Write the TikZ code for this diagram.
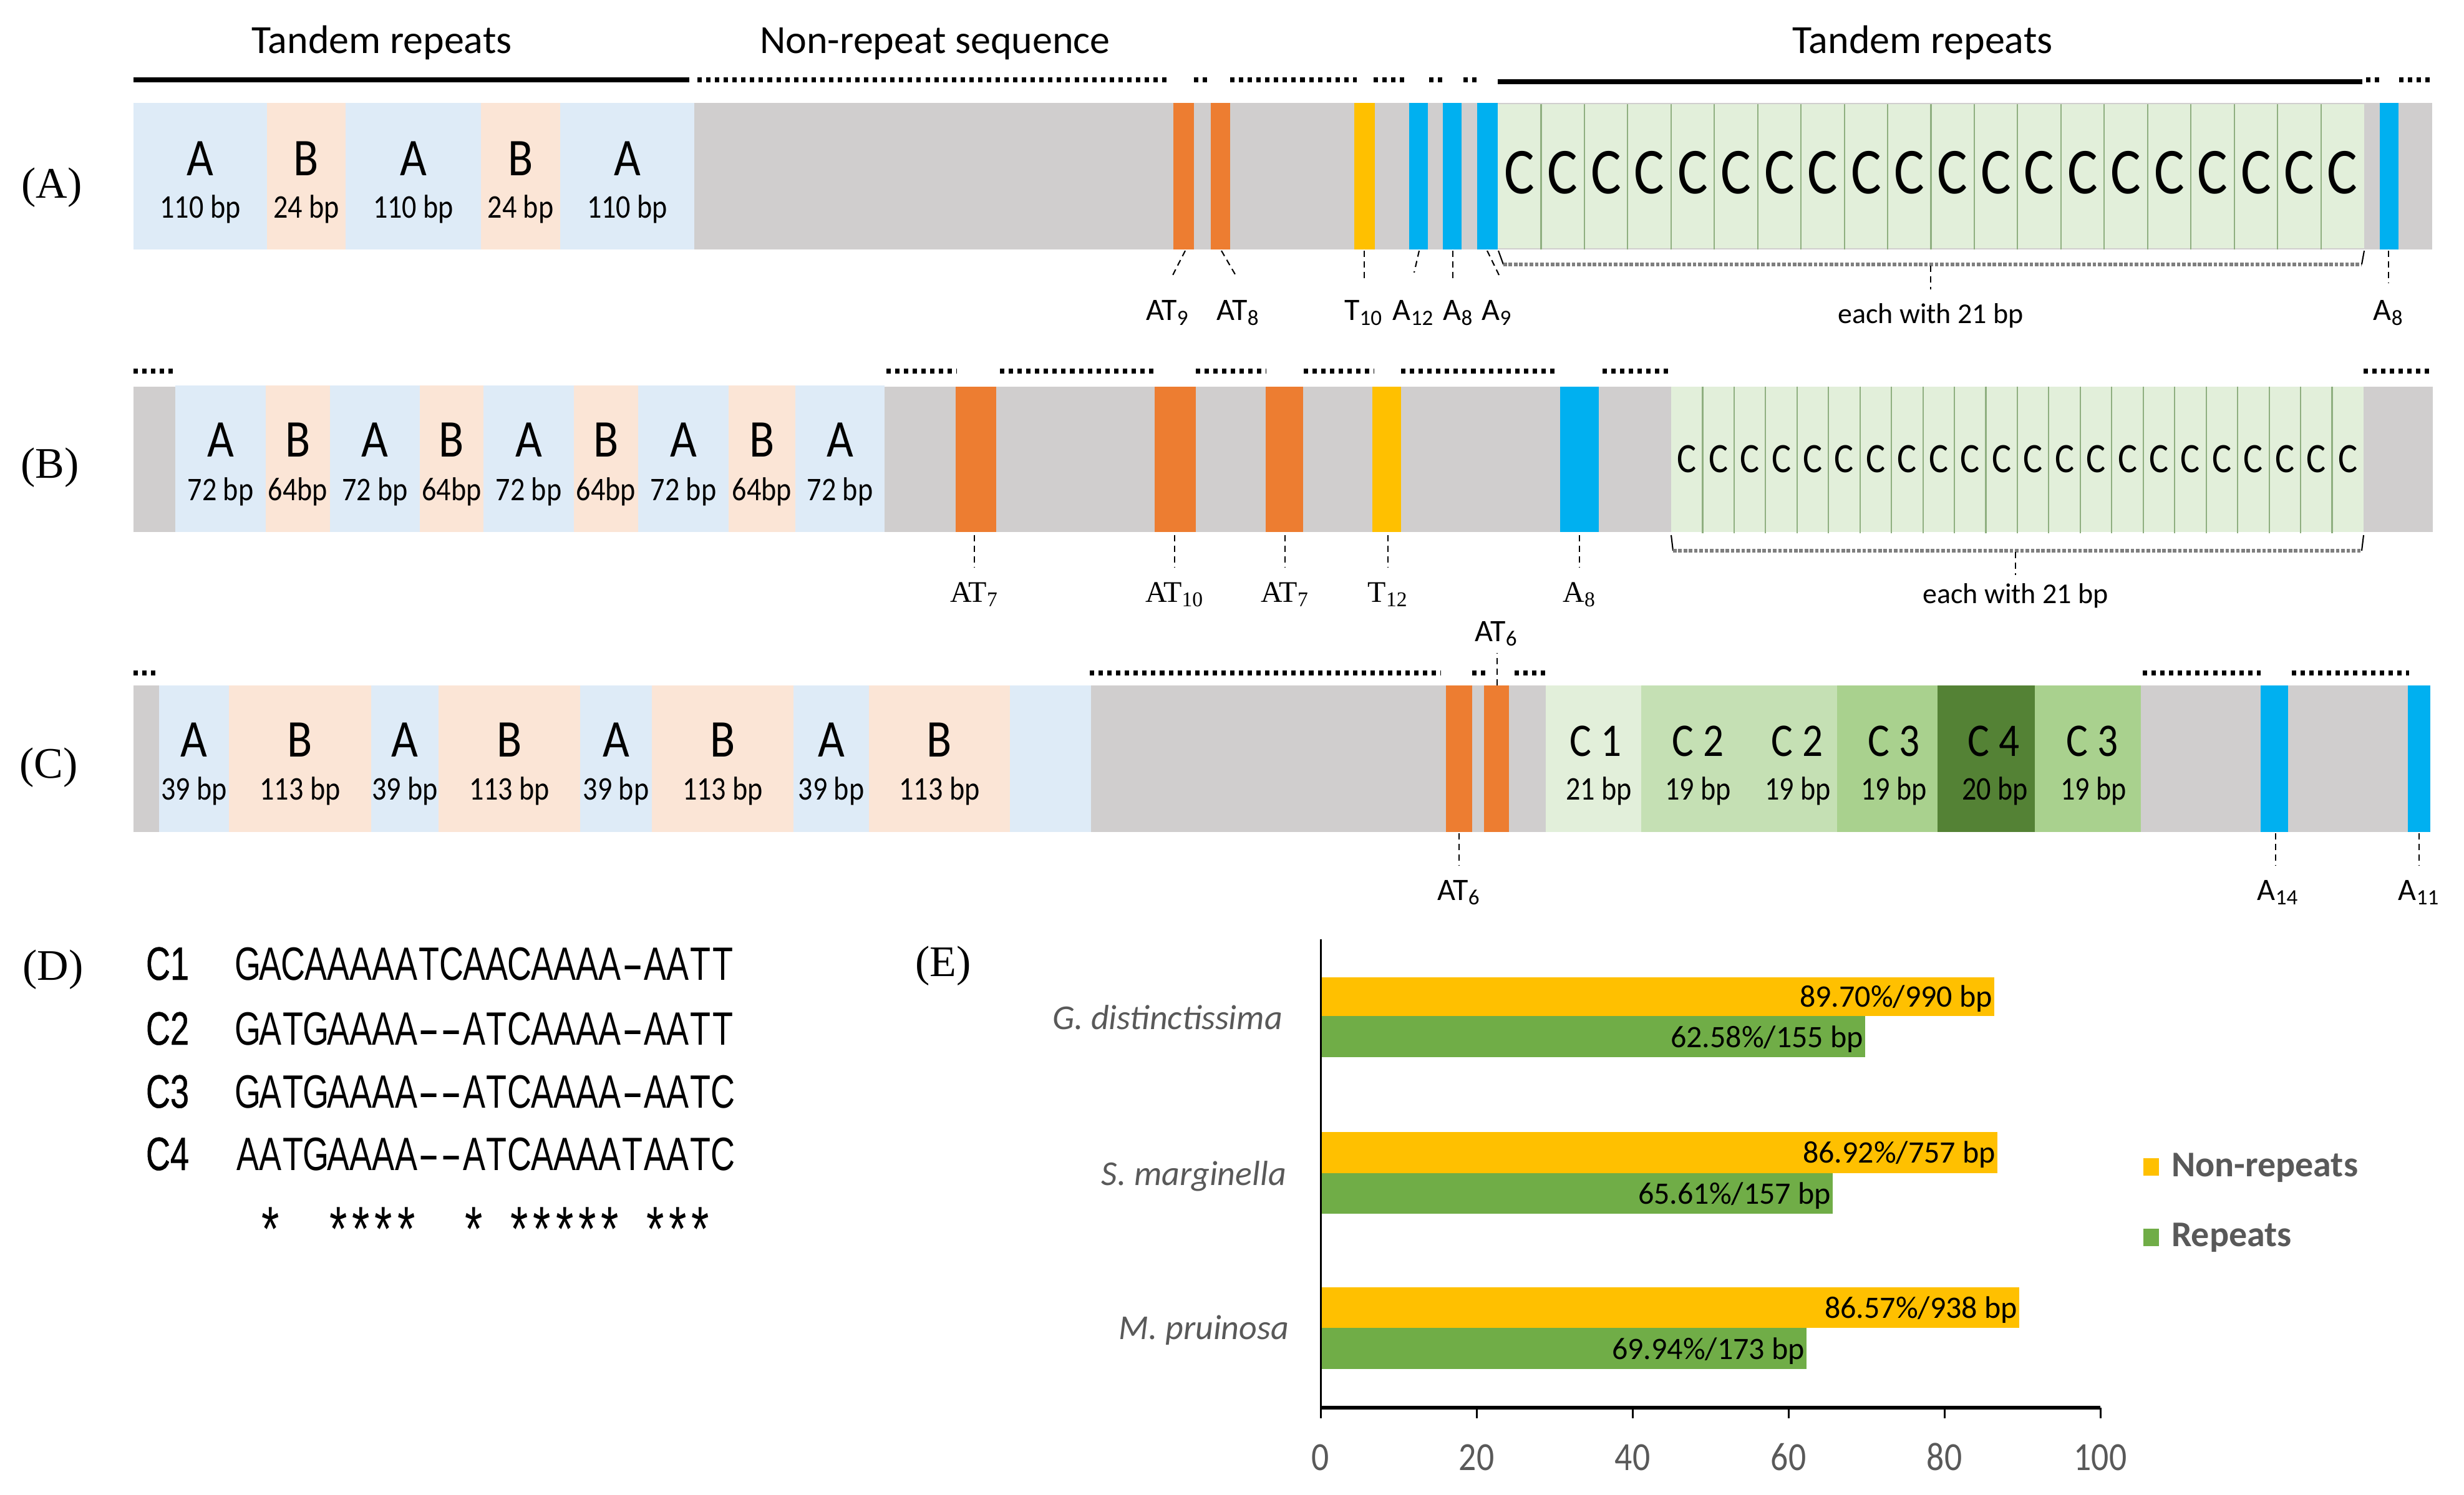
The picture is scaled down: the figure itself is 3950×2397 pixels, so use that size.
\documentclass[tikz,border=0pt]{standalone}
\usepackage{fontspec}
\usepackage{graphicx}
\setmainfont{Carlito}
\newfontfamily\calN[FakeStretch=0.87]{Carlito}
\newfontfamily\tms{Liberation Serif}
\newfontfamily\arl[FakeStretch=0.72]{Liberation Sans}
\newfontfamily\arlB[FakeStretch=0.72,FakeBold=0.6]{Liberation Sans}
\newcommand\fpx[1]{\fontsize{\fpeval{#1*0.28453}pt}{\fpeval{#1*0.34}pt}\selectfont}
\definecolor{lblue}{HTML}{DEEBF7}
\definecolor{peach}{HTML}{FBE5D6}
\definecolor{gbar}{HTML}{D0CECE}
\definecolor{ssrO}{HTML}{ED7D31}
\definecolor{ssrY}{HTML}{FFC000}
\definecolor{ssrB}{HTML}{00B0F0}
\definecolor{lgreen}{HTML}{E2EFDA}
\definecolor{cgB}{HTML}{C5E0B4}
\definecolor{cgC}{HTML}{A9D18E}
\definecolor{cgD}{HTML}{548235}
\definecolor{cline}{HTML}{8FAF80}
\definecolor{brgray}{HTML}{7F7F7F}
\definecolor{gtext}{HTML}{595959}
\definecolor{barG}{HTML}{70AD47}
\newlength\seqw
\setlength\seqw{3.63mm}
\def\seqrun#1{\ifx#1\relax\else\seqchar{#1}\expandafter\seqrun\fi}
\newcommand\seqchar[1]{\ifx x#1\hspace*{\seqw}\else\makebox[\seqw][c]{\ifx-#1\scalebox{1.9}[1]{-}\else\ifx*#1\raisebox{-0.12em}{\scalebox{1.35}{*}}\else#1\fi\fi}\fi}
\begin{document}
\begin{tikzpicture}[x=0.1mm,y=-0.1mm,
  every node/.style={inner sep=0pt,outer sep=0pt},
  tl/.style={font=\calN\fpx{85},anchor=base},
  bpl/.style={font=\calN\fpx{53},anchor=base},
  dotl/.style={line width=2pt,dash pattern=on 2pt off 2pt},
  solidl/.style={line width=2.3pt},
  leader/.style={line width=0.6pt,dash pattern=on 2.8pt off 2pt},
  brk/.style={line width=1.6pt,brgray,dash pattern=on 1.6pt off 0.8pt},
  brv/.style={line width=0.6pt},
  sl/.style={font=\fpx{50},anchor=base},
  tmsl/.style={font=\tms\fpx{48},anchor=base},
  panel/.style={font=\tms\fpx{70},anchor=base},
  hdr/.style={font=\fpx{64},anchor=base},
  eachl/.style={font=\fpx{46},anchor=base},
  cl/.style={cline,line width=0.6pt},
  barl/.style={font=\fpx{50},anchor=base east},
  spl/.style={font=\itshape\fpx{56},text=gtext,anchor=base east},
  tickl/.style={font=\calN\fpx{64},text=gtext,anchor=base},
  legl/.style={font=\bfseries\fpx{58},text=gtext,anchor=base west},
  seq/.style={font=\arl\fpx{75},anchor=base west},
  seqlab/.style={font=\arlB\fpx{75},anchor=base west}
]
\useasboundingbox (0,0) rectangle (3950,2397);

% ---------------- Row A ----------------
\node[panel] (pA) at (83,318) {(A)};
\node[hdr] (hA1) at (612,86) {Tandem repeats};
\node[hdr] (hA2) at (1499,86) {Non-repeat sequence};
\node[hdr] (hA3) at (3082,86) {Tandem repeats};
\draw[solidl] (214,128) -- (1105,128);
\foreach \xa/\xb in {1118/1876,1914/1940,1972/2175,2202/2258,2291/2313,2346/2371,3793/3815,3846/3899}
  \draw[dotl] (\xa,128) -- (\xb,128);
\draw[solidl] (2401,131) -- (3787,131);

\fill[gbar] (214,165) rectangle (3899,400);
\foreach \xa/\xb/\cc/\lt/\bp [count=\i] in {214/428/lblue/A/110 bp,428/554/peach/B/24 bp,554/771/lblue/A/110 bp,771/898/peach/B/24 bp,898/1113/lblue/A/110 bp}{
  \fill[\cc] (\xa,165) rectangle (\xb,400);
  \node[tl] (Al\i) at ({(\xa+\xb)/2},282) {\lt};
  \node[bpl] (Ab\i) at ({(\xa+\xb)/2},350) {\bp};
}
\foreach \xa/\xb/\cc in {1881/1914/ssrO,1941/1972/ssrO,2171/2204/ssrY,2259/2289/ssrB,2313/2343/ssrB,2368/2401/ssrB,3815/3845/ssrB}
  \fill[\cc] (\xa,165) rectangle (\xb,400);
\fill[lgreen] (2401,167) rectangle (3790,398);
\foreach \i in {1,...,19} \draw[cl] ({2401+\i*69.45},167) -- ({2401+\i*69.45},400);
\foreach \i in {0,...,19} \node[font=\calN\fpx{105},anchor=base] (AC\i) at ({2401+(\i+0.5)*69.45},311) {C};

\foreach \xa/\ya/\xb/\yb/\xl/\tx [count=\i] in {1900/402/1878/445/1872/AT\textsubscript{9},1958/402/1983/445/1985/AT\textsubscript{8},2187/402/2187/448/2186/T\textsubscript{10},2275/402/2267/437/2266/A\textsubscript{12},2329/402/2329/448/2338/A\textsubscript{8},2384/402/2403/441/2400/A\textsubscript{9},3829/402/3829/454/3829/A\textsubscript{8}}{
  \coordinate (LAa\i) at (\xa,\ya);
  \coordinate (LAb\i) at (\xb,\yb);
  \draw[leader] (LAa\i) -- (LAb\i);
  \node[sl] (LA\i) at (\xl,514) {\tx};
}
\coordinate (bA1) at (2402,402); \coordinate (bA2) at (2410,424);
\coordinate (bA3) at (3786,424); \coordinate (bA4) at (3790,402);
\coordinate (bA5) at (3095,426); \coordinate (bA6) at (3095,464);
\draw[brv] (bA1) -- (bA2);
\draw[brk] (bA2) -- (bA3);
\draw[brv] (bA3) -- (bA4);
\draw[leader] (bA5) -- (bA6);
\node[eachl] (eA) at (3095,519) {each with 21 bp};

% ---------------- Row B ----------------
\node[panel] (pB) at (80,767) {(B)};
\foreach \xa/\xb in {214/284,1421/1534,1603/1852,1917/2030,2090/2203,2246/2496,2569/2679,3789/3900}
  \draw[dotl] (\xa,595) -- (\xb,595);
\fill[gbar] (214,620) rectangle (3900,853);
\foreach \xa/\xb/\cc/\lt/\bp [count=\i] in {281/426/lblue/A/72 bp,426/529/peach/B/64bp,529/673/lblue/A/72 bp,673/775/peach/B/64bp,775/920/lblue/A/72 bp,920/1023/peach/B/64bp,1023/1168/lblue/A/72 bp,1168/1275/peach/B/64bp,1275/1418/lblue/A/72 bp}{
  \fill[\cc] (\xa,618) rectangle (\xb,853);
  \node[tl] (Bl\i) at ({(\xa+\xb)/2},732) {\lt};
  \node[bpl] (Bb\i) at ({(\xa+\xb)/2},802) {\bp};
}
\foreach \xa/\xb/\cc in {1532/1597/ssrO,1851/1917/ssrO,2029/2089/ssrO,2200/2246/ssrY,2501/2563/ssrB}
  \fill[\cc] (\xa,620) rectangle (\xb,853);
\fill[lgreen] (2679,620) rectangle (3789,853);
\foreach \i in {1,...,21} \draw[cl] ({2679+\i*50.45},620) -- ({2679+\i*50.45},855);
\foreach \i in {0,...,21} \node[font=\calN\fpx{67},anchor=base] (BC\i) at ({2679+(\i+0.5)*50.45},757) {C};

\foreach \xa/\tx [count=\i] in {1562/AT\textsubscript{7},1883/AT\textsubscript{10},2060/AT\textsubscript{7},2225/T\textsubscript{12},2532/A\textsubscript{8}}{
  \coordinate (LBa\i) at (\xa,858);
  \coordinate (LBb\i) at (\xa,910);
  \draw[leader] (LBa\i) -- (LBb\i);
  \node[tmsl] (LB\i) at (\xa,965) {\tx};
}
\coordinate (bB1) at (2679,858); \coordinate (bB2) at (2682,883);
\coordinate (bB3) at (3786,883); \coordinate (bB4) at (3789,858);
\coordinate (bB5) at (3231,885); \coordinate (bB6) at (3231,922);
\draw[brv] (bB1) -- (bB2);
\draw[brk] (bB2) -- (bB3);
\draw[brv] (bB3) -- (bB4);
\draw[leader] (bB5) -- (bB6);
\node[eachl] (eB) at (3231,967) {each with 21 bp};

% ---------------- Row C ----------------
\node[panel] (pC) at (78,1247) {(C)};
\foreach \xa/\xb in {214/255,1747/2310,2360/2382,2428/2480,3435/3624,3674/3862}
  \draw[dotl] (\xa,1079) -- (\xb,1079);
\fill[gbar] (214,1099) rectangle (3896,1334);
\foreach \xa/\xb/\cc/\lt/\bp [count=\i] in {255/367/lblue/A/39 bp,367/595/peach/B/113 bp,595/703/lblue/A/39 bp,703/930/peach/B/113 bp,930/1045/lblue/A/39 bp,1045/1272/peach/B/113 bp,1272/1393/lblue/A/39 bp,1393/1619/peach/B/113 bp}{
  \fill[\cc] (\xa,1099) rectangle (\xb,1334);
  \node[tl] (Cl\i) at ({(\xa+\xb)/2},1213) {\lt};
  \node[bpl] (Cb\i) at ({(\xa+\xb)/2},1282) {\bp};
}
\fill[lblue] (1619,1099) rectangle (1749,1334);
\foreach \xa/\xb/\cc in {2318/2360/ssrO,2379/2419/ssrO,3624/3668/ssrB,3860/3896/ssrB}
  \fill[\cc] (\xa,1099) rectangle (\xb,1334);
\foreach \xa/\xb/\cc/\xt/\xp/\lt/\bp [count=\i] in {2478/2631/lgreen/2558/2563/C 1/21 bp,2631/2788/cgB/2722/2722/C 2/19 bp,2788/2945/cgB/2881/2882/C 2/19 bp,2945/3106/cgC/3036/3036/C 3/19 bp,3106/3262/cgD/3196/3198/C 4/20 bp,3262/3432/cgC/3354/3356/C 3/19 bp}{
  \fill[\cc] (\xa,1099) rectangle (\xb,1334);
  \node[font=\calN\fpx{75},anchor=base] (Cc\i) at (\xt,1212) {\lt};
  \node[bpl] (Cp\i) at (\xp,1282) {\bp};
}
\foreach \xa/\xl/\tx [count=\i] in {2339/2339/AT\textsubscript{6},3648/3652/A\textsubscript{14},3878/3878/A\textsubscript{11}}{
  \coordinate (LCa\i) at (\xa,1336);
  \coordinate (LCb\i) at (\xa,1387);
  \draw[leader] (LCa\i) -- (LCb\i);
  \node[sl] (LC\i) at (\xl,1443) {\tx};
}
\coordinate (LCt1) at (2400,1099); \coordinate (LCt2) at (2400,1047);
\draw[leader] (LCt1) -- (LCt2);
\node[sl] (LCtop) at (2399,1028) {AT\textsubscript{6}};

% ---------------- Panel D ----------------
\node[panel] (pD) at (85,1571) {(D)};
\foreach \lab/\s/\yb [count=\i] in {C1/GACAAAAATCAACAAAA-AATT/1571,C2/GATGAAAA--ATCAAAA-AATT/1675,C3/GATGAAAA--ATCAAAA-AATC/1776,C4/AATGAAAA--ATCAAAATAATC/1876}{
  \node[seqlab] (Dl\i) at (234,\yb) {\lab};
  \node[seq] (Ds\i) at (379,\yb) {\expandafter\seqrun\s\relax};
}
\node[seq] (Dstar) at (379,1996) {\seqrun x*xx****xx*x*****x***\relax};

% ---------------- Panel E ----------------
\node[panel] (pE) at (1512,1565) {(E)};
\coordinate (O) at (2117,2257);
\coordinate (Ytop) at (2117,1506);
\coordinate (Xend) at (3367,2257);
\fill[ssrY] (2117,1567) rectangle (3197,1629);
\fill[barG] (2117,1629) rectangle (2990,1695);
\fill[ssrY] (2117,1815) rectangle (3202,1881);
\fill[barG] (2117,1881) rectangle (2938,1946);
\fill[ssrY] (2117,2064) rectangle (3237,2129);
\fill[barG] (2117,2129) rectangle (2896,2195);
\draw[line width=0.85pt] (Ytop) -- (O);
\draw[line width=1.7pt] (O) -- (Xend);
\foreach \v in {0,20,40,60,80,100}{
  \coordinate (tk\v) at ({2117+\v*12.5},2257);
  \coordinate (tb\v) at ({2117+\v*12.5},2274);
  \draw[line width=0.85pt] (tk\v) -- (tb\v);
  \node[tickl] (tl\v) at ({2117+\v*12.5},2357) {\v};
}
\node[barl] (eb1) at (3194,1614) {89.70\%/990 bp};
\node[barl] (eb2) at (2987,1679) {62.58\%/155 bp};
\node[barl] (eb3) at (3199,1864) {86.92\%/757 bp};
\node[barl] (eb4) at (2935,1930) {65.61\%/157 bp};
\node[barl] (eb5) at (3234,2113) {86.57\%/938 bp};
\node[barl] (eb6) at (2893,2179) {69.94\%/173 bp};
\node[spl] (sp1) at (2056,1650) {G. distinctissima};
\node[spl] (sp2) at (2062,1900) {S. marginella};
\node[spl] (sp3) at (2066,2147) {M. pruinosa};
\fill[ssrY] (3436,1857) rectangle (3461,1885);
\fill[barG] (3436,1970) rectangle (3461,1998);
\node[legl] (lg1) at (3481,1886) {Non-repeats};
\node[legl] (lg2) at (3481,1998) {Repeats};
\end{tikzpicture}
\end{document}
